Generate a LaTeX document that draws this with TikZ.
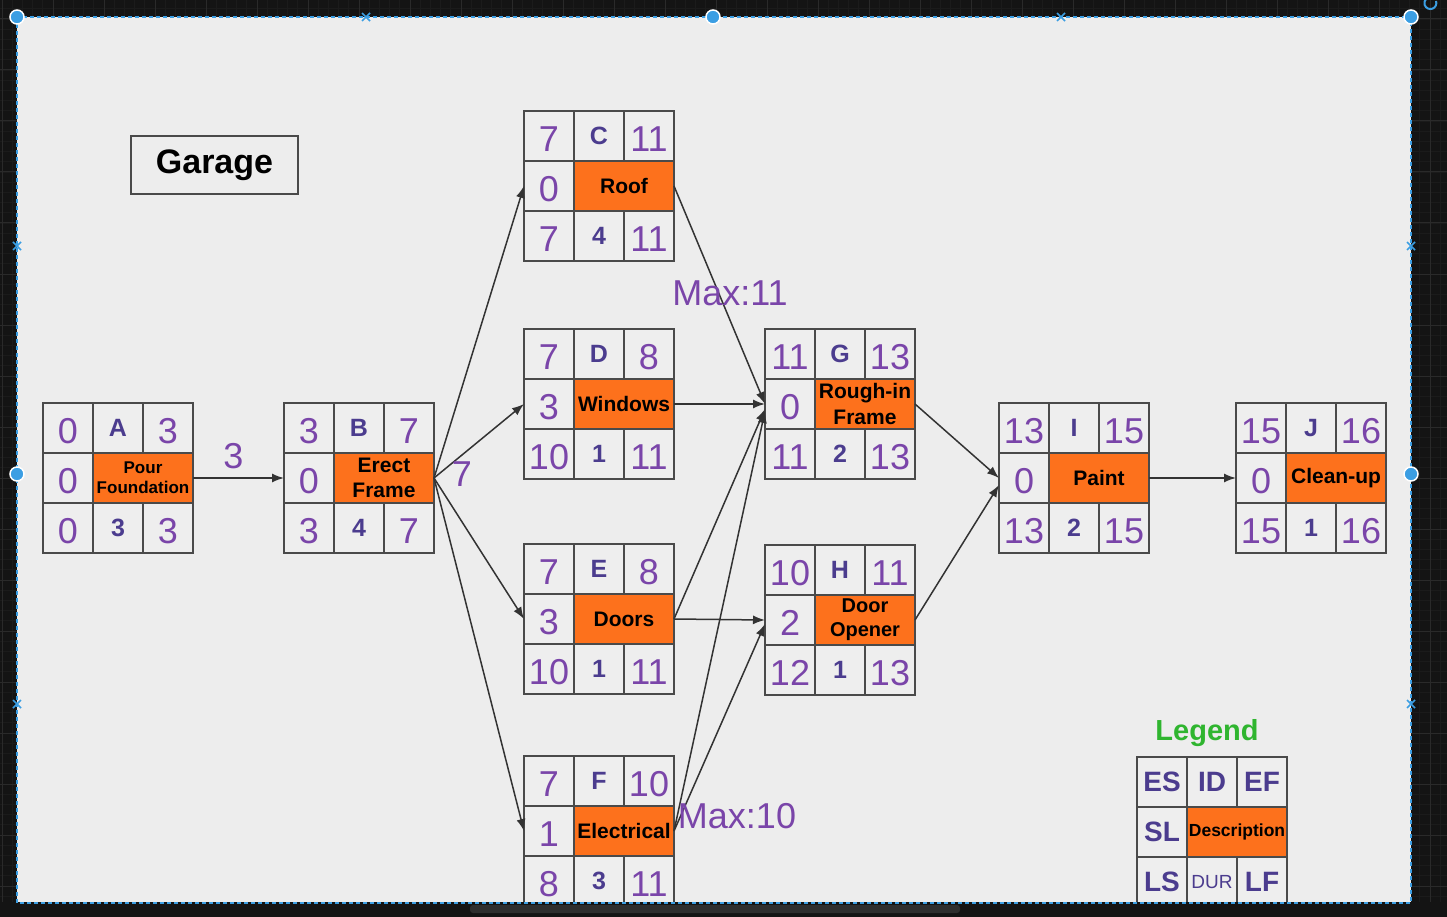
\documentclass[tikz,border=0pt]{standalone}
\usepackage{fontspec}
\setmainfont{Liberation Sans}
\usetikzlibrary{arrows.meta,positioning}
\definecolor{uidark}{HTML}{141414}
\definecolor{gridminor}{HTML}{1B1B1B}
\definecolor{gridmajor}{HTML}{2A2A2A}
\definecolor{panelbg}{HTML}{EDEDED}
\definecolor{cellbg}{HTML}{EEEEEE}
\definecolor{cellline}{HTML}{4A4A4A}
\definecolor{taskorange}{HTML}{FD711C}
\definecolor{numpurple}{HTML}{7A45A9}
\definecolor{letpurple}{HTML}{4B3C8E}
\definecolor{arrowgray}{HTML}{333333}
\definecolor{selblue}{HTML}{3B9EE3}
\definecolor{legendgreen}{HTML}{2FB52F}
\definecolor{thumbgray}{HTML}{2E2E2E}
\tikzset{
  cell/.style={draw=cellline, line width=1.8pt, fill=cellbg, minimum width=50pt, minimum height=50pt, inner sep=0pt, outer sep=0pt},
  numcell/.style={cell, text=numpurple, font=\fontsize{36}{36}\selectfont, text height=31pt, text depth=0pt},
  letcell/.style={cell, text=letpurple, font=\bfseries\fontsize{25}{25}\selectfont},
  keycell/.style={cell, text=letpurple, font=\bfseries\fontsize{28}{28}\selectfont},
  desccell/.style={cell, fill=taskorange, minimum width=100pt, align=center, text=black},
  arr/.style={-{Latex[length=12pt,width=9pt]}, draw=arrowgray, line width=1.5pt},
  lbl/.style={text=numpurple, font=\fontsize{36}{36}\selectfont, inner sep=0pt},
  handle/.style={fill=selblue, draw=white, line width=1.5pt},
}

\begin{document}
\begin{tikzpicture}[x=1pt, y=-1pt]
\useasboundingbox (0,0) rectangle (1447,917);
\fill[uidark] (0,0) rectangle (1447,917);
\foreach \gx in {12.2,22.4,...,1447} \draw[gridminor, line width=0.8pt] (\gx,0) -- (\gx,917);
\foreach \gy in {8.8,19,...,917} \draw[gridminor, line width=0.8pt] (0,\gy) -- (1447,\gy);
\foreach \gx in {2,53,...,1447} \draw[gridmajor, line width=1pt] (\gx,0) -- (\gx,917);
\foreach \gy in {19,70,...,917} \draw[gridmajor, line width=1pt] (0,\gy) -- (1447,\gy);
\fill[panelbg] (17,17) rectangle (1411,903);

\node[draw=cellline, line width=2pt, minimum width=167pt, minimum height=58pt, font=\bfseries\fontsize{34}{34}\selectfont] (garage) at (214.5,165) {Garage};

\foreach \nm/\x/\y/\tes/\tef/\tsl/\tds/\tfs/\tls/\tdu/\tlf in {
  A/43/403/0/3/0/{Pour\\Foundation}/17/0/3/3,
  B/284/403/3/7/0/{Erect\\Frame}/21/3/4/7,
  C/524/111/7/11/0/Roof/21/7/4/11,
  D/524/329/7/8/3/Windows/21/10/1/11,
  E/524/544/7/8/3/Doors/21/10/1/11,
  F/524/756/7/10/1/Electrical/21/8/3/11,
  G/765/329/11/13/0/{Rough-in\\Frame}/21/11/2/13,
  H/765/545/10/11/2/{Door\\Opener}/20/12/1/13,
  I/999/403/13/15/0/Paint/21/13/2/15,
  J/1236/403/15/16/0/Clean-up/21/15/1/16}{
  \pgfmathsetmacro\tbs{1.2*\tfs}
  \node[numcell] (\nm-es) at (\x+25,\y+25) {\tes};
  \node[letcell] (\nm-id) at (\x+75,\y+25) {\nm};
  \node[numcell] (\nm-ef) at (\x+125,\y+25) {\tef};
  \node[numcell] (\nm-sl) at (\x+25,\y+75) {\tsl};
  \node[desccell, font=\bfseries\fontsize{\tfs}{\tbs}\selectfont] (\nm-ds) at (\x+100,\y+75) {\tds};
  \node[numcell] (\nm-ls) at (\x+25,\y+125) {\tls};
  \node[letcell] (\nm-du) at (\x+75,\y+125) {\tdu};
  \node[numcell] (\nm-lf) at (\x+125,\y+125) {\tlf};
}

\draw[arr] (A-ds.east) -- node[lbl, above=8pt, xshift=-5pt] (lab-ab) {3} (B-sl.west);
\draw[arr] (B-ds.east) -- (C-sl.west);
\draw[arr] (B-ds.east) -- (D-sl.west);
\draw[arr] (B-ds.east) -- (E-sl.west);
\draw[arr] (B-ds.east) -- (F-sl.west);
\draw[arr] (C-ds.east) -- (G-sl.west);
\draw[arr] (D-ds.east) -- (G-sl.west);
\draw[arr] (E-ds.east) -- ([yshift=-5pt]G-sl.west);
\draw[arr] (F-ds.east) -- ([yshift=-7pt]G-sl.west);
\draw[arr] (E-ds.east) -- (H-sl.west);
\draw[arr] (F-ds.east) -- ([yshift=-4pt]H-sl.west);
\draw[arr] (G-ds.east) -- (I-sl.west);
\draw[arr] (H-ds.east) -- ([yshift=-7pt]I-sl.west);
\draw[arr] (I-ds.east) -- (J-sl.west);

\node[lbl] (lab-b) at (462,474) {7};
\node[lbl] (max-g) at (730,293) {Max:11};
\node[lbl] (max-h) at (737,816) {Max:10};

\node[text=legendgreen, font=\bfseries\fontsize{29}{29}\selectfont] (legend) at (1207,733) {Legend};
\node[keycell] (key-es) at (1162,782) {ES};
\node[keycell] (key-id) at (1212,782) {ID};
\node[keycell] (key-ef) at (1262,782) {EF};
\node[keycell] (key-sl) at (1162,832) {SL};
\node[desccell, font=\bfseries\fontsize{17.5}{20}\selectfont] (key-ds) at (1237,832) {Description};
\node[keycell] (key-ls) at (1162,882) {LS};
\node[keycell, font=\fontsize{19}{19}\selectfont] (key-du) at (1212,882) {DUR};
\node[keycell] (key-lf) at (1262,882) {LF};

\fill[uidark] (0,902) rectangle (1447,917);
\fill[thumbgray, rounded corners=3pt] (470,905) rectangle (960,913);
\draw[selblue, line width=1.5pt, dash pattern=on 4pt off 3pt] (17,17) rectangle (1411,903);
\foreach \cx/\cy in {366/17, 1061/17, 17/246, 1411/246, 17/704, 1411/704}
  \draw[selblue, line width=1.5pt] (\cx-4,\cy-4) -- (\cx+4,\cy+4) (\cx-4,\cy+4) -- (\cx+4,\cy-4);
\foreach \hx/\hy in {17/17, 713/17, 1411/17, 17/474, 1411/474}
  \filldraw[handle] (\hx,\hy) circle (7pt);
\draw[selblue, line width=2pt] (1436,1) arc (20:-230:6pt);
\end{tikzpicture}
\end{document}
